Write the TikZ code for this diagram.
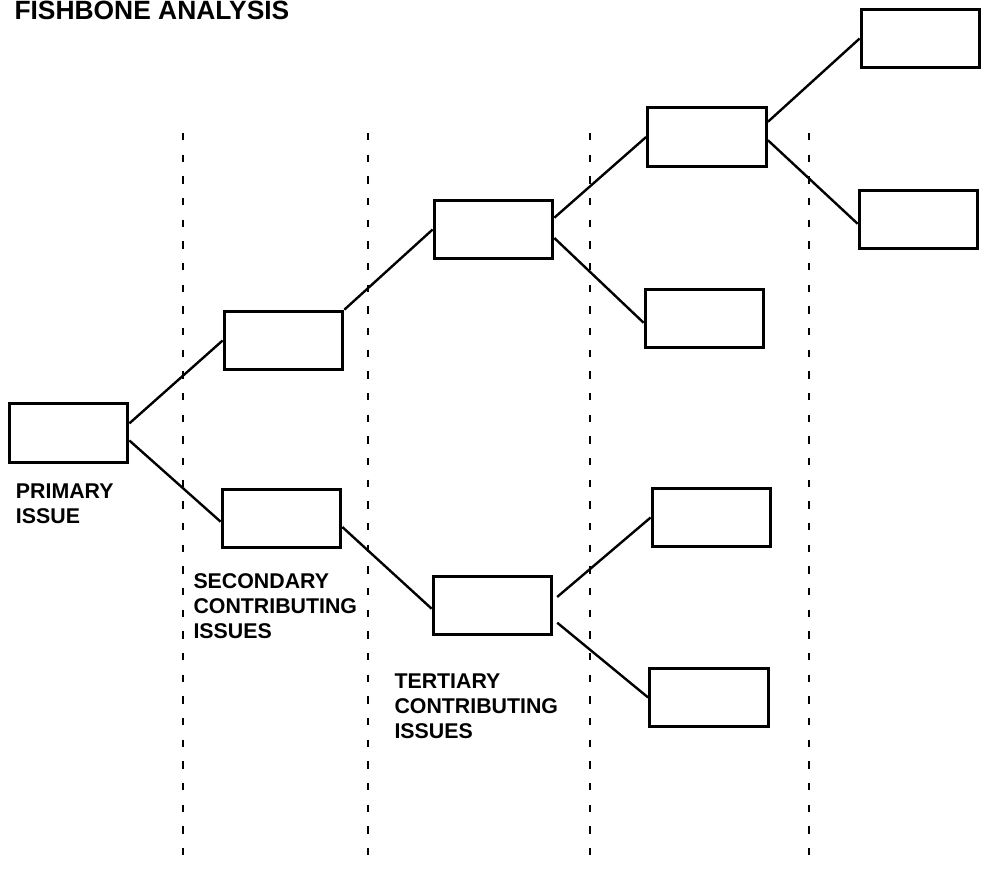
\documentclass[tikz,border=0pt]{standalone}
\usepackage{fontspec}
\setmainfont{Liberation Sans}

\tikzset{every picture/.style={line width=0.75pt}}
\tikzset{
  issuebox/.style={draw, line width=2.3pt, minimum width=89pt, minimum height=44pt, inner sep=0pt},
  bone/.style={line width=1.8pt},
  divider/.style={line width=2.2pt, dash pattern=on 5.5pt off 10.75pt},
  issuetext/.style={anchor=north west, inner sep=0pt, align=left, font=\fontsize{16}{18.75}\selectfont\bfseries}
}

\begin{document}
\begin{tikzpicture}[x=0.75pt,y=0.75pt,yscale=-1,xscale=1]
\useasboundingbox (0,0) rectangle (981,869);

%Dashed Lines
\foreach \xx in {183,368,590,809}
  \draw[divider] (\xx,133) -- (\xx,869);

%Shape: Rectangle (primary)
\node[issuebox] (prim) at (68.5,433) {};
%Shape: Rectangle (secondary)
\node[issuebox] (secA) at (283.5,340.5) {};
\node[issuebox] (secB) at (281.5,518.5) {};
%Shape: Rectangle (tertiary)
\node[issuebox] (terA) at (493.5,229.5) {};
\node[issuebox] (terB) at (492.5,605.5) {};
%Shape: Rectangle (fourth level)
\node[issuebox] (quaA) at (707,137) {};
\node[issuebox] (quaB) at (704.5,318.5) {};
\node[issuebox] (quaC) at (711.5,517.5) {};
\node[issuebox] (quaD) at (709,697.5) {};
%Shape: Rectangle (fifth level)
\node[issuebox] (fifA) at (920.5,38.5) {};
\node[issuebox] (fifB) at (918.5,219.5) {};

%Straight Lines
\draw[bone] (prim.9) -- (secA.west);
\draw[bone] (prim.-7) -- (secB.183);
\draw[bone] (secA.north east) -- (terA.west);
\draw[bone] (secB.-8) -- (terB.183);
\draw[bone] (terA.11) -- (quaA.west);
\draw[bone] (terA.-8) -- (quaB.184);
\draw[bone, shorten <=3.75pt] (terB.5) -- (quaC.west);
\draw[bone, shorten <=3.75pt] (terB.-13) -- (quaD.west);
\draw[bone] (quaA.14) -- (fifA.west);
\draw[bone] (quaA.-3) -- (fifB.184);

% Text Node
\node[anchor=north west, inner sep=0pt, font=\fontsize{19.8}{22}\selectfont\bfseries] (title) at (14,1) {FISHBONE ANALYSIS};
% Text Node
\node[issuetext] (primtext) at (15.5,483) {PRIMARY\\ISSUE};
% Text Node
\node[issuetext] (sectext) at (193,573) {SECONDARY\\CONTRIBUTING\\ISSUES};
% Text Node
\node[issuetext] (tertext) at (394,673) {TERTIARY\\CONTRIBUTING\\ISSUES};

\end{tikzpicture}
\end{document}
